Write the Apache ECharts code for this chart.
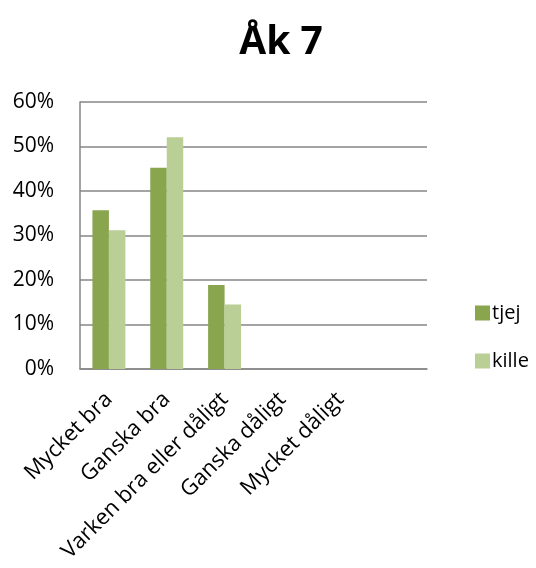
<!DOCTYPE html>
<html><head><meta charset="utf-8">
<script src="https://cdn.jsdelivr.net/npm/echarts@6/dist/echarts.min.js"></script>
<style>html,body{margin:0;padding:0;background:#fff}#c{width:536px;height:568px}</style>
</head><body><div id="c"></div>
<script>
const title = "Åk 7";
const categories = ["Mycket bra", "Ganska bra", "Varken bra eller dåligt", "Ganska dåligt", "Mycket dåligt", ""];
const tjej = [35.7, 45.2, 18.9, null, null, null];
const kille = [31.2, 52.1, 14.5, null, null, null];
const yTicks = [0, 10, 20, 30, 40, 50, 60];
const font = "'Open Sans', 'DejaVu Sans', sans-serif";
const chart = echarts.init(document.getElementById('c'));
chart.setOption({
  animation: false,
  title: {text: title, left: 276, top: 18, textAlign: 'center',
    textStyle: {fontFamily: font, fontSize: 39, fontWeight: 'bold', color: '#000'}},
  grid: {left: 80, right: 109, top: 102, bottom: 199},
  legend: {orient: 'vertical', left: 470, top: 298, itemWidth: 15, itemHeight: 15, itemGap: 28,
    icon: 'rect', textStyle: {fontFamily: font, fontSize: 20, color: '#000', padding: [0,0,0,-3]},
    data: ['tjej', 'kille']},
  xAxis: {type: 'category', data: categories,
    axisLine: {lineStyle: {color: '#868686', width: 1.5}},
    axisTick: {show: false},
    axisLabel: {rotate: 45, interval: 0, margin: 27, fontFamily: font, fontSize: 22, color: '#000'}},
  yAxis: {type: 'value', min: yTicks[0], max: yTicks[yTicks.length-1], interval: 10,
    axisLine: {show: true, lineStyle: {color: '#868686', width: 1.5}},
    axisTick: {show: false},
    splitLine: {lineStyle: {color: '#868686', width: 1.5}},
    axisLabel: {formatter: v => v + '%', margin: 26, fontFamily: font, fontSize: 21, color: '#000'}},
  series: [
    {name: 'tjej', type: 'bar', data: tjej, barGap: 0, barCategoryGap: '43%', itemStyle: {color: '#89A54E'}},
    {name: 'kille', type: 'bar', data: kille, itemStyle: {color: '#B9CF96'}}
  ]
});
</script></body></html>
